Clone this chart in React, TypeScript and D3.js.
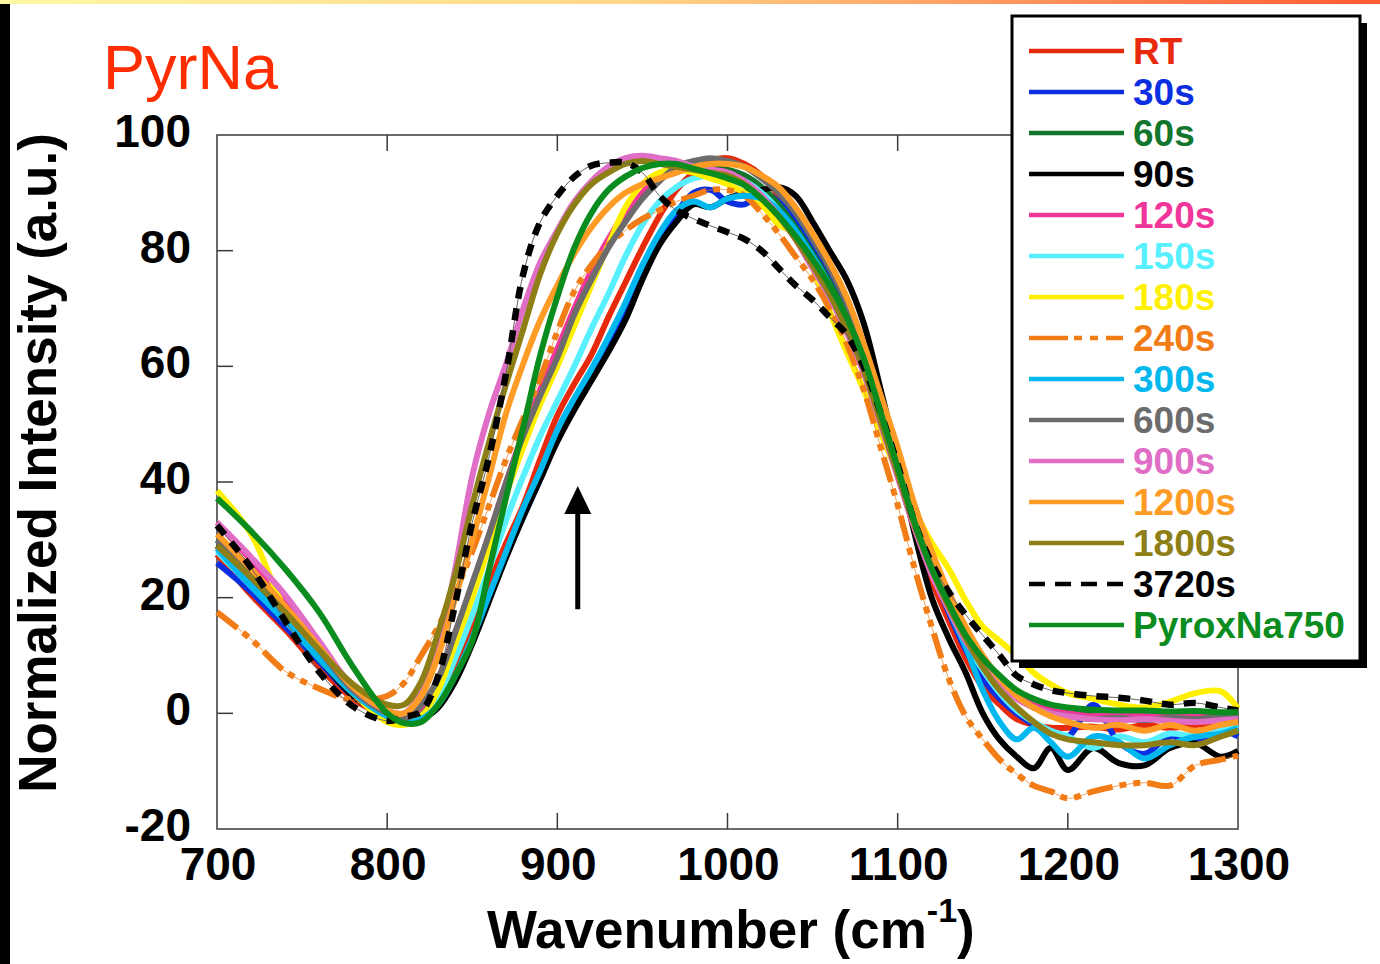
import React from "react";
import * as d3 from "d3";

// Wavenumber grid (cm-1) shared by all spectra
const wavenumbers = [
  700, 720, 740, 760, 780,
  800, 810, 820, 830, 840, 850, 860, 870, 880, 890,
  900, 910, 920, 930, 940, 950, 960, 970, 980, 990,
  1000, 1010, 1020, 1030, 1040, 1050, 1060, 1070, 1080, 1090,
  1100, 1110, 1120, 1130, 1140, 1150, 1160, 1170, 1180, 1190,
  1200, 1215, 1230, 1245, 1260, 1275, 1290, 1300,
];

const rtValues = [
  27.5, 20.5, 14.5, 8, 2.5,
  -0.5, -1, -0.5, 2.5, 8, 15, 22.5, 29.5, 36, 44,
  51.5, 57, 62, 68.5, 74.5, 80.5, 86, 90.5, 93.5, 95.5,
  96, 95, 93, 89.5, 85, 80.5, 75, 69, 61.5, 52,
  42, 32, 23, 16, 9.5, 4.5, 1.5, -1, -2, -2.5,
  -2.5, -2.3, -2.8, -2, -2.5, -2, -1.8, -1.5,
];
const s30Values = [
  26, 21, 15, 9, 3,
  0, -0.5, -0.5, 1.5, 6, 12.5, 20, 27.5, 34, 40.5,
  47.5, 53.5, 58.5, 64, 70, 76.5, 82, 86.5, 90, 90.5,
  88.5, 88, 90, 88.5, 85, 80.5, 75, 69, 61.5, 52.5,
  43, 33.5, 25, 17.5, 11, 6, 2.5, 0, -2, -3.5,
  -4, 1.5, -5, -7, -4, -5, -3, -4,
];
const s60Values = [
  30, 24.5, 18, 11, 4,
  0, -1.2, 0.5, 5, 12.5, 21, 30, 39, 47.5, 55,
  62, 69, 75.5, 81, 85.5, 89.5, 92.5, 94, 94.5, 94.5,
  94, 93, 91, 88, 84, 79.5, 74.5, 68.5, 61, 52,
  43, 34, 26, 19.5, 14, 9, 5.5, 3, 1.5, 0.5,
  0, -0.3, -0.5, -0.3, -0.6, -0.4, -0.3, -0.2,
];
const s90Values = [
  29, 22.5, 16, 9.5, 3,
  -0.5, -1.5, -1, 1, 5.5, 12, 19.5, 27, 34, 40.5,
  47, 52.5, 57.5, 62.5, 68, 75, 81, 85, 88, 87.5,
  89, 90, 90.5, 91, 89.5, 85, 80, 75, 67.5, 56,
  44, 31, 20, 13, 7, 0, -4.6, -7.5, -9.5, -6,
  -9.8, -6, -8.6, -9, -6, -5.2, -7.5, -6.5,
];
const s120Values = [
  33, 26.5, 19.5, 12, 4.5,
  0, -1, 1, 6, 14, 22, 31, 40, 48.5, 56,
  63, 70, 76.5, 82, 86.5, 90, 93, 94.5, 94.5, 94,
  93.5, 92, 89.5, 86, 82, 77, 72, 66, 59, 50,
  41, 32, 24.5, 18, 12.5, 8, 5, 3, 1.5, 0.5,
  0, -0.5, 0, -0.5, -0.2, 0, -0.5, -0.3,
];
const s150Values = [
  28, 22, 16, 9.5, 3.5,
  -0.5, -1.5, -0.5, 3, 9.5, 17, 25, 33.5, 41, 48,
  54, 60, 66.5, 72.5, 79, 84.5, 88.5, 91, 92.5, 93,
  93, 92, 90, 87, 83, 78.5, 73.5, 67.5, 60, 51,
  42, 33, 25, 18.5, 12.5, 7.5, 3.5, 0.5, -1.5, -3,
  -4, -6, -4, -5, -3.5, -4, -3, -2,
];
const s180Values = [
  38.5, 31, 18, 10, 3.5,
  -1.5, -2, -0.5, 4, 12, 20, 29, 38, 46, 53.5,
  60, 67, 74, 81, 87.5, 91.5, 93.5, 94, 93.5, 92.5,
  91.5, 90, 88, 84.5, 83, 77, 69.5, 62.5, 56, 48.5,
  41.5, 35, 29.5, 25, 19.5, 15, 12.5, 10, 7, 5,
  3.5, 2.5, 1.5, 1, 2, 3.5, 3.8, 0.8,
];
const s240Values = [
  17.5, 12.8, 7.3, 4.3, 2.3,
  3, 5.3, 10, 15, 21, 28, 36, 44, 51, 58,
  66, 73, 77.5, 81, 83.5, 85.5, 87, 88.5, 89.5, 90.5,
  90.5, 89.5, 86.5, 83, 79, 75, 70, 64, 56, 46,
  36, 25, 15, 6, -0.5, -4.5, -8, -10.5, -12.5, -13.5,
  -14.7, -13.5, -12.5, -12, -12.5, -9, -8, -7.3,
];
const s300Values = [
  28.5, 22, 16, 9.5, 3.5,
  -0.5, -1.5, -1, 1.5, 6.5, 13, 20.5, 28, 35.5, 42,
  49, 54.5, 59.5, 65, 71, 77.5, 83, 87, 88.5, 87.5,
  89, 89.5, 89, 87, 83.5, 79, 74, 68, 61, 52,
  43, 33.5, 25, 18, 11.5, 4, -1.5, -4.5, -2.5, -5,
  -7.5, -4, -5, -7.8, -5.5, -4, -3.5, -2.5,
];
const s600Values = [
  30, 24, 18, 11, 4,
  0, -1, 1.5, 6, 14, 22.5, 31, 40, 48, 55,
  61.5, 69, 75, 80.5, 85, 89, 92, 94.5, 95.5, 96,
  95.5, 94.5, 92.5, 90, 86.5, 82, 77, 71, 63.5, 54.5,
  45, 35.5, 27.5, 20.5, 14.5, 9.5, 5.5, 3, 1, 0,
  -0.5, -1, -0.8, -1.2, -0.8, -1, -0.5, -0.3,
];
const s900Values = [
  33, 27, 20.5, 12.5, 4.5,
  0.5, 0, 3.5, 11, 25, 41, 52, 60.5, 70, 78,
  83.5, 88.5, 92, 94.5, 96, 96.4, 96, 95.5, 94.5, 94,
  93.5, 92, 89.5, 86, 82, 77, 72, 66, 59, 50,
  41, 32, 24, 18, 12.5, 8.5, 5, 2.5, 1, 0,
  -0.5, -1, -1.2, -1, -1.3, -1.5, -1.2, -1,
];
const s1200Values = [
  31, 25, 18.5, 11.5, 4.5,
  0.5, 0, 3, 10, 20, 30, 41, 52, 60.5, 68,
  74, 79.5, 84, 87.5, 90, 91.5, 92.5, 93.5, 94.5, 95,
  95, 94.5, 93, 91, 87.5, 83, 78, 72, 64, 55,
  46, 36, 28, 21, 15, 10, 6, 3, 1, -0.5,
  -1.5, -2.5, -2, -3, -2, -3, -2, -1.5,
];
const s1800Values = [
  29, 23.5, 17.5, 11, 5,
  1.5, 1.5, 5.5, 14, 24, 36, 47, 57, 66.5, 76,
  83, 88, 91.5, 93.5, 95, 95.5, 95, 94.5, 94, 93.5,
  93, 91.5, 89, 86, 82, 77.5, 72.5, 66.5, 59.5, 50.5,
  41.5, 32.5, 25, 18.5, 13, 8, 4, 1, -1.5, -3.5,
  -4.5, -5, -5.5, -5.5, -5, -5.5, -4, -3,
];
const s3720Values = [
  32.5, 25.2, 16, 7.2, 1.2,
  -1.3, -0.6, 0.3, 6.5, 19, 33, 44.5, 59, 76, 85,
  89.5, 92.8, 94.7, 95.2, 95.2, 93.5, 89.5, 87, 85.5, 84.3,
  83.2, 82, 80, 77, 74, 71.5, 68.5, 65.5, 60, 52,
  43, 33, 26, 21, 17, 13.5, 10, 6.5, 5, 4,
  3.5, 3, 2.7, 2.2, 1.5, 1.8, 1, 0.5,
];
const pyroxValues = [
  37.2, 31.5, 25, 17.5, 8,
  0, -1.7, -1.5, 1.5, 6.5, 12.5, 25, 37.5, 49.5, 62,
  72, 80.5, 86.5, 90.5, 92.8, 94.3, 95, 95, 94.2, 93.4,
  92.5, 91.3, 89, 86, 82.5, 78.5, 74, 68.5, 61.5, 52,
  42.5, 33, 25, 19, 13.5, 9.5, 6.5, 4, 2.5, 1.5,
  1, 0.6, 0.5, 0.5, 0.3, 0.4, 0.2, 0.2,
];

const xTicks = [700, 800, 900, 1000, 1100, 1200, 1300];
const yTicks = [-20, 0, 20, 40, 60, 80, 100];

// arrow annotation, in data units
const arrowX = 912;
const arrowFrom = 18;
const arrowTo = 39.3;

type Series = { name: string; values: number[]; color: string; kind: "solid" | "dashed" | "dashdot" };
const series: Series[] = [
  { name: "RT", values: rtValues, color: "#e82a0c", kind: "solid" },
  { name: "30s", values: s30Values, color: "#0b2ee0", kind: "solid" },
  { name: "60s", values: s60Values, color: "#12762c", kind: "solid" },
  { name: "90s", values: s90Values, color: "#000000", kind: "solid" },
  { name: "120s", values: s120Values, color: "#f0369a", kind: "solid" },
  { name: "150s", values: s150Values, color: "#58f0ff", kind: "solid" },
  { name: "180s", values: s180Values, color: "#fff000", kind: "solid" },
  { name: "240s", values: s240Values, color: "#f27c16", kind: "dashdot" },
  { name: "300s", values: s300Values, color: "#00b8ee", kind: "solid" },
  { name: "600s", values: s600Values, color: "#6c6c6c", kind: "solid" },
  { name: "900s", values: s900Values, color: "#e06ec6", kind: "solid" },
  { name: "1200s", values: s1200Values, color: "#ff9c26", kind: "solid" },
  { name: "1800s", values: s1800Values, color: "#8e7e16", kind: "solid" },
  { name: "3720s", values: s3720Values, color: "#000000", kind: "dashed" },
  { name: "PyroxNa750", values: pyroxValues, color: "#0a8c1e", kind: "solid" },
];

const FONT = "'Liberation Sans', Arial, Helvetica, sans-serif";

export default function App() {
  const W = 1380;
  const H = 964;
  const x = d3.scaleLinear().domain([700, 1300]).range([217, 1238]);
  const y = d3.scaleLinear().domain([-20, 100]).range([829, 135]);
  const line = d3
    .line<number>()
    .x((_, i) => x(wavenumbers[i]))
    .y((d) => y(d))
    .curve(d3.curveCatmullRom.alpha(0.5));

  const [x0, x1] = x.range();
  const [yb, yt] = y.range();
  const tickLen = 16;

  const legX = 1012;
  const legY = 16;
  const legW = 348;
  const legH = 645;
  const rowY0 = 51;
  const rowStep = 41;

  return (
    <div style={{ position: "fixed", left: 0, top: 0, width: W, height: H, background: "#fff" }}>
      <svg width={W} height={H} style={{ display: "block" }} fontFamily={FONT}>
        <defs>
          <linearGradient id="topbar" x1="0" x2="1" y1="0" y2="0">
            <stop offset="0" stopColor="#fff7a4" />
            <stop offset="0.45" stopColor="#ffd78a" />
            <stop offset="1" stopColor="#ff5a32" />
          </linearGradient>
        </defs>
        <rect x={0} y={0} width={W} height={H} fill="#fff" />
        <rect x={0} y={0} width={W} height={4} fill="url(#topbar)" />
        <rect x={0} y={4} width={10} height={H - 4} fill="#000" />

        {/* title */}
        <text x={103} y={89} fontSize={63} fill="#ff2d00">PyrNa</text>

        {/* frame */}
        <rect x={x0} y={yt} width={x1 - x0} height={yb - yt} fill="none" stroke="#3a3a3a" strokeWidth={1.5} />
        {xTicks.slice(1, -1).map((t) => (
          <g key={"xt" + t} stroke="#3a3a3a" strokeWidth={1.5}>
            <line x1={x(t)} x2={x(t)} y1={yb} y2={yb - tickLen} />
            <line x1={x(t)} x2={x(t)} y1={yt} y2={yt + tickLen} />
          </g>
        ))}
        {yTicks.slice(1, -1).map((t) => (
          <g key={"yt" + t} stroke="#3a3a3a" strokeWidth={1.5}>
            <line x1={x0} x2={x0 + tickLen} y1={y(t)} y2={y(t)} />
            <line x1={x1} x2={x1 - tickLen} y1={y(t)} y2={y(t)} />
          </g>
        ))}

        {/* tick labels */}
        {xTicks.map((t) => (
          <text key={"xl" + t} x={x(t) + 1} y={880} fontSize={46} fontWeight={700} textAnchor="middle" fill="#000">
            {t}
          </text>
        ))}
        {yTicks.map((t) => (
          <text key={"yl" + t} x={191} y={y(t) + 12} fontSize={46} fontWeight={700} textAnchor="end" fill="#000">
            {t}
          </text>
        ))}

        {/* axis titles */}
        <text x={487} y={948} fontSize={53} fontWeight={700} fill="#000">
          Wavenumber (cm
          <tspan fontSize={34} dy={-26}>-1</tspan>
          <tspan dy={26}>)</tspan>
        </text>
        <text
          transform={`translate(56,463) rotate(-90)`}
          fontSize={53}
          fontWeight={700}
          textAnchor="middle"
          fill="#000"
        >
          Normalized Intensity (a.u.)
        </text>

        {/* spectra */}
        {series.map((s) => {
          const d = line(s.values) || "";
          if (s.kind === "dashed") {
            return (
              <g key={s.name}>
                <path d={d} fill="none" stroke="#666" strokeWidth={1} />
                <path d={d} fill="none" stroke={s.color} strokeWidth={6.5} strokeDasharray="12 10" />
              </g>
            );
          }
          if (s.kind === "dashdot") {
            return (
              <g key={s.name}>
                <path d={d} fill="none" stroke={s.color} strokeWidth={1} opacity={0.7} />
                <path d={d} fill="none" stroke={s.color} strokeWidth={6} strokeDasharray="26 7 7 7 7 7" />
              </g>
            );
          }
          return <path key={s.name} d={d} fill="none" stroke={s.color} strokeWidth={6} strokeLinejoin="round" />;
        })}

        {/* arrow */}
        <line x1={x(arrowX)} x2={x(arrowX)} y1={y(arrowFrom)} y2={y(arrowTo) + 24} stroke="#000" strokeWidth={5} />
        <path
          d={`M${x(arrowX)},${y(arrowTo)} L${x(arrowX) + 13.5},${y(arrowTo) + 28} L${x(arrowX) - 13.5},${y(arrowTo) + 28} Z`}
          fill="#000"
        />

        {/* legend */}
        <rect x={legX + 7} y={legY + 7} width={legW} height={legH} fill="#000" />
        <rect x={legX} y={legY} width={legW} height={legH} fill="#fff" stroke="#000" strokeWidth={3} />
        {series.map((s, i) => {
          const cy = rowY0 + i * rowStep;
          return (
            <g key={"leg" + s.name}>
              {s.kind === "dashed" ? (
                <line x1={1029} x2={1124} y1={cy} y2={cy} stroke={s.color} strokeWidth={4.5} strokeDasharray="16 10" />
              ) : s.kind === "dashdot" ? (
                <line x1={1029} x2={1124} y1={cy} y2={cy} stroke={s.color} strokeWidth={4.5} strokeDasharray="39 6 8 8 8 8 17" />
              ) : (
                <line x1={1029} x2={1124} y1={cy} y2={cy} stroke={s.color} strokeWidth={4.5} />
              )}
              <text x={1133} y={cy + 13} fontSize={37} fontWeight={700} fill={s.color}>
                {s.name}
              </text>
            </g>
          );
        })}
      </svg>
    </div>
  );
}
